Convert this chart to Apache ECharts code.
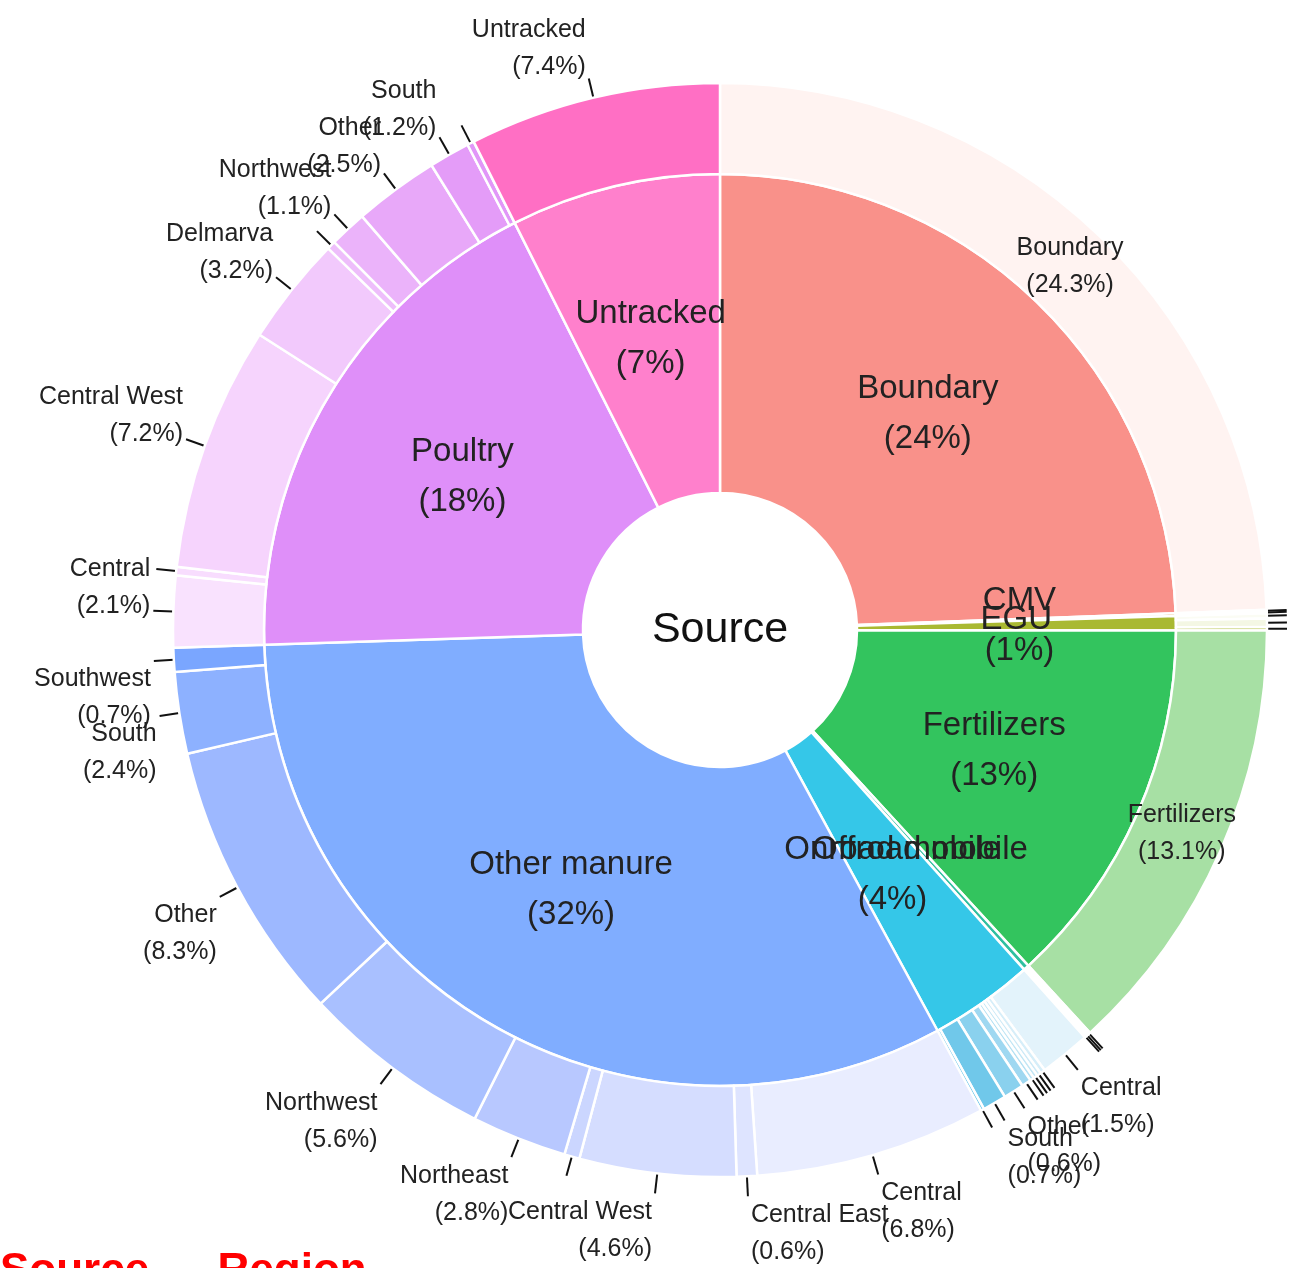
<!DOCTYPE html>
<html>
<head>
<meta charset="utf-8">
<script src="https://cdn.jsdelivr.net/npm/echarts@6/dist/echarts.min.js"></script>
<style>
  html, body { margin: 0; padding: 0; background: #fff; }
  #chart { width: 1306px; height: 1268px; }
</style>
</head>
<body>
<div id="chart"></div>
<script>
// sources (inner ring), clockwise from 12 o'clock
var sources = ['Boundary', 'EGU', 'CMV', 'Fertilizers', 'Offroad mobile', 'Onroad mobile', 'Other manure', 'Poultry', 'Untracked'];

// regions (outer ring) per source, share of total in %
var boundaryRegions = ['Boundary'];
var boundaryShares = [24.3];
var eguRegions = ['Central', 'Other'];
var eguShares = [0.05, 0.05];
var cmvRegions = ['Central', 'Other', 'South'];
var cmvShares = [0.15, 0.25, 0.1];
var fertRegions = ['Fertilizers'];
var fertShares = [13.1];
var offroadRegions = ['Central', 'Other', 'South'];
var offroadShares = [0.07, 0.07, 0.06];
var onroadRegions = ['Central', 'Central East', 'Central West', 'Delmarva', 'Northeast', 'Northwest', 'Other', 'South', 'Southwest'];
var onroadShares = [1.5, 0.15, 0.12, 0.12, 0.12, 0.28, 0.6, 0.7, 0.1];
var manureRegions = ['Central', 'Central East', 'Central West', 'Delmarva', 'Northeast', 'Northwest', 'Other', 'South', 'Southwest'];
var manureShares = [6.8, 0.6, 4.6, 0.45, 2.8, 5.6, 8.3, 2.4, 0.7];
var poultryRegions = ['Central', 'Central East', 'Central West', 'Delmarva', 'Northeast', 'Northwest', 'Other', 'South', 'Southwest'];
var poultryShares = [2.1, 0.25, 7.2, 3.2, 0.25, 1.1, 2.5, 1.2, 0.2];
var untrackedRegions = ['Untracked'];
var untrackedShares = [7.4];

var regionNames = [boundaryRegions, eguRegions, cmvRegions, fertRegions, offroadRegions, onroadRegions, manureRegions, poultryRegions, untrackedRegions];
var regionShares = [boundaryShares, eguShares, cmvShares, fertShares, offroadShares, onroadShares, manureShares, poultryShares, untrackedShares];

// colours
var innerColors = ['#f9918a', '#d9a23c', '#a9b932', '#33c45e', '#2fbfa0', '#35c7e8', '#80adff', '#df8ff9', '#ff80cc'];
var outerColors = [
    ['#fff3f1'],
    ['#fff8ec', '#fdf0d8'],
    ['#fbfcf4', '#f4f7e4', '#b7c44f'],
    ['#a7e0a4'],
    ['#e0f5ef', '#c5ece2', '#a6e2d4'],
    ['#e3f3fb', '#d6eef9', '#cdeaf7', '#c1e6f5', '#b3e0f3', '#9fd8f1', '#8ad1ee', '#70c8ea', '#63c3e8'],
    ['#e9edff', '#dee4ff', '#d5ddff', '#cbd6ff', '#b8c8ff', '#a9c0ff', '#9db8ff', '#8db1ff', '#7aa6ff'],
    ['#f9e2fe', '#f8ddfe', '#f6d4fd', '#f2c9fc', '#eebefb', '#ebb3fa', '#e8a8f9', '#e49cf8', '#e196f8'],
    ['#ff6fc4']
];

var CX = 720, CY = 630;
var FONT = 'Liberation Sans, Arial, sans-serif';

var innerData = [];
var outerData = [];
sources.forEach(function (s, i) {
    var vals = regionShares[i];
    var sum = vals.reduce(function (a, b) { return a + b; }, 0);
    var item = { name: s, value: sum, itemStyle: { color: innerColors[i] } };
    if (Math.round(sum) === 0) {
        // tiny sector: ECharts drops inside labels here, so place it in labelLayout
        item.label = { position: 'outside' };
        item.labelLine = { show: false };
    }
    innerData.push(item);
    regionNames[i].forEach(function (r, j) {
        var o = { name: r, value: vals[j], itemStyle: { color: outerColors[i][j] } };
        if (regionNames[i].length === 1 && vals[j] > 10) {
            o.label = { position: 'inside' };
        }
        outerData.push(o);
    });
});

var chart = echarts.init(document.getElementById('chart'));
var option = {
    animation: false,
    title: {
        text: 'Source \u2192 Region',
        left: 0,
        top: 1250,
        padding: 0,
        textStyle: { color: '#ff0000', fontSize: 44, fontWeight: 'bold', fontFamily: FONT }
    },
    series: [
        {
            type: 'pie',
            center: [CX, CY],
            radius: [0, 137],
            silent: true,
            itemStyle: { color: '#fff' },
            label: { position: 'center', formatter: '{b}', fontSize: 43, color: '#111', fontFamily: FONT },
            labelLine: { show: false },
            data: [{ name: 'Source', value: 1 }]
        },
        {
            type: 'pie',
            center: [CX, CY],
            radius: [137, 456],
            startAngle: 90,
            avoidLabelOverlap: false,
            itemStyle: { borderColor: '#fff', borderWidth: 2.5 },
            emphasis: { scale: false },
            label: {
                position: 'inside',
                fontSize: 33,
                lineHeight: 50,
                color: '#222',
                fontFamily: FONT,
                formatter: function (p) {
                    var pct = Math.round(p.value);
                    return pct > 0 ? p.name + '\n(' + pct + '%)' : p.name;
                }
            },
            labelLine: { show: false },
            labelLayout: function (params) {
                var d = innerData[params.dataIndex];
                if (!d || Math.round(d.value) !== 0) return {};
                var r = params.rect;
                return { x: r.x + r.width / 2, y: r.y + r.height / 2, align: 'center', verticalAlign: 'middle' };
            },
            data: innerData
        },
        {
            type: 'pie',
            center: [CX, CY],
            radius: [456, 547],
            startAngle: 90,
            avoidLabelOverlap: false,
            itemStyle: { borderColor: '#fff', borderWidth: 2.5 },
            emphasis: { scale: false },
            label: {
                position: 'outside',
                fontSize: 25,
                lineHeight: 37,
                color: '#222',
                fontFamily: FONT,
                distanceToLabelLine: 3,
                formatter: function (p) {
                    if (p.value < 0.5) return ' ';
                    return p.name + '\n(' + p.value.toFixed(1) + '%)';
                }
            },
            labelLine: { show: true, length: 20, length2: 0, lineStyle: { color: '#111', width: 2 } },
            labelLayout: function (params) {
                var pts = params.labelLinePoints;
                if (!pts || !pts.length) return {};
                var end = pts[pts.length - 1];
                if (end[1] > CY) return { verticalAlign: 'top' };
                var ex = end[0] - CX, ey = end[1] - CY;
                var ux = Math.abs(ex) / Math.sqrt(ex * ex + ey * ey);
                return { verticalAlign: 'bottom', dy: 5 + 9 * ux };
            },
            data: outerData
        }
    ]
};

if (option && typeof option === 'object') {
    chart.setOption(option);
}

window.addEventListener('resize', function () {
    chart.resize();
});
</script>
</body>
</html>
